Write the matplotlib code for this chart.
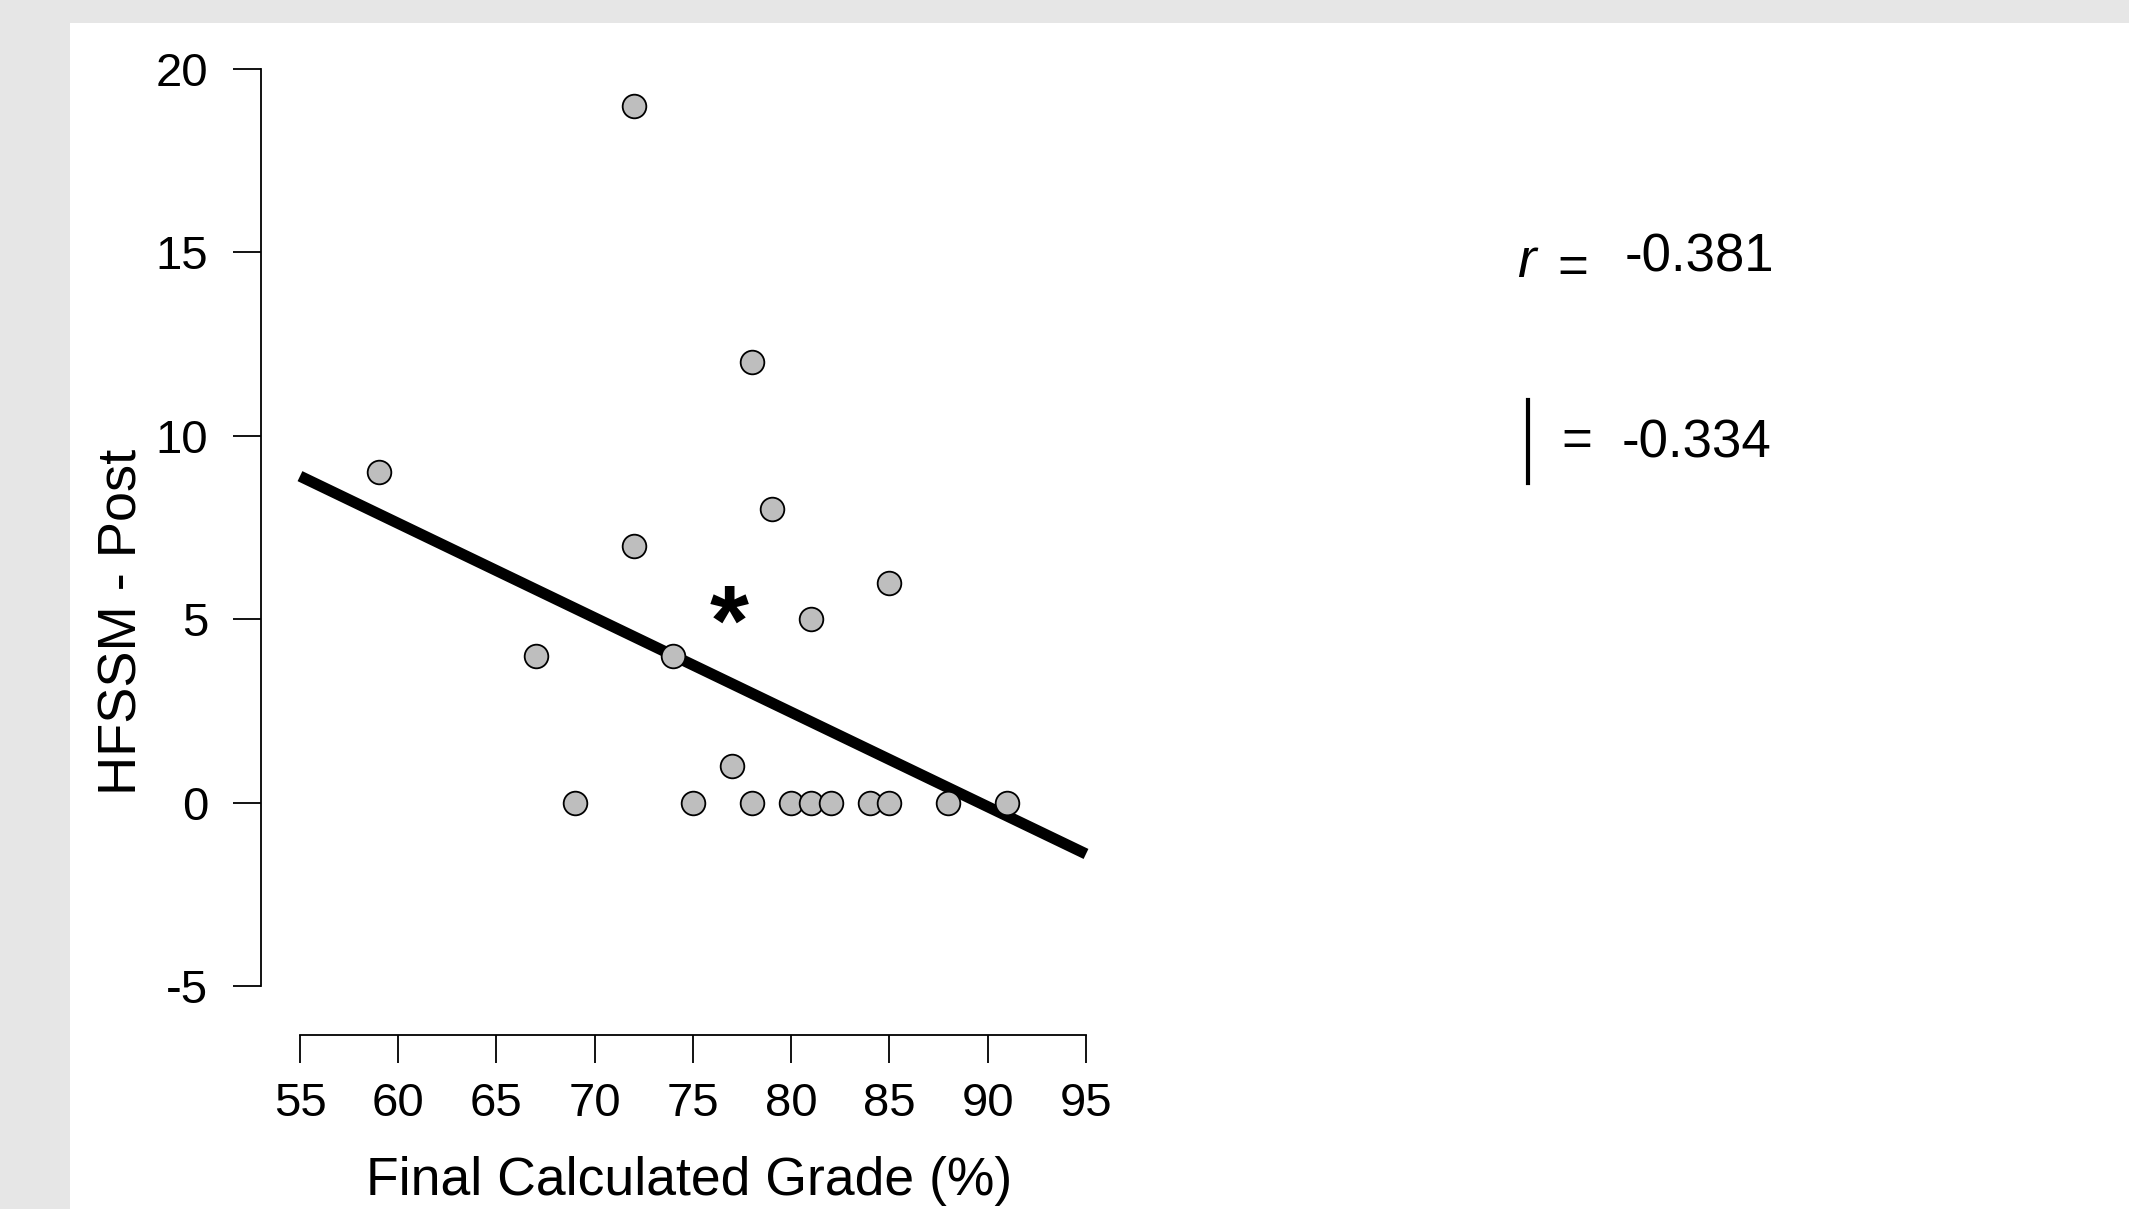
import numpy as np
import matplotlib
matplotlib.use("Agg")
import matplotlib.pyplot as plt
from matplotlib.lines import Line2D
from matplotlib.patches import Rectangle

plt.rcParams["font.family"] = ["Liberation Sans", "DejaVu Sans"]

#<---------------- datos ---------------->
grade = [59, 72, 78, 79, 72, 85, 81, 67, 74, 77,
         69, 75, 78, 80, 81, 82, 84, 85, 88, 91]
hfssm = [9, 19, 12, 8, 7, 6, 5, 4, 4, 1,
         0, 0, 0, 0, 0, 0, 0, 0, 0, 0]
fit_x = [55, 95]
fit_y = [8.9, -1.4]
x_ticks = [55, 60, 65, 70, 75, 80, 85, 90, 95]
y_ticks = [-5, 0, 5, 10, 15, 20]
r_value = "-0.381"
rho_value = "-0.334"

W, H = 2129, 1209
fig = plt.figure(figsize=(W / 100, H / 100), dpi=100)
fig.patch.set_facecolor("#e6e6e6")
fig.add_artist(Rectangle((70 / W, 0), 1, 1 - 23 / H, transform=fig.transFigure,
                         facecolor="white", edgecolor="none", zorder=-10))

def px(x, y):
    return x / W, 1 - y / H

#<---------------- ejes ---------------->
ax = fig.add_axes([261 / W, 1 - 1035 / H, (1086 - 261) / W, (1035 - 69) / H])
ax.patch.set_alpha(0)
ax.set_xlim(53.016, 95)
ax.set_ylim(-6.336, 20)

ax.plot(fit_x, fit_y, color="black", lw=8, solid_capstyle="butt", clip_on=False, zorder=2)
ax.scatter(grade, hfssm, s=290, facecolor="#bebebe", edgecolor="black", linewidth=1.3,
           zorder=3, clip_on=False)
ax.text(76.83, 4.75, "*", fontsize=72, fontweight="bold", ha="center", va="center")

for s in ["top", "right"]:
    ax.spines[s].set_visible(False)
ax.spines["left"].set_bounds(-5, 20)
ax.spines["bottom"].set_bounds(55, 95)
ax.spines["left"].set_linewidth(1.3)
ax.spines["bottom"].set_linewidth(1.3)
ax.set_xticks(x_ticks)
ax.set_yticks(y_ticks)
ax.set_yticklabels([str(v) for v in y_ticks])
ax.tick_params(axis="both", direction="out", length=20, width=1.3, labelsize=34)
ax.tick_params(axis="y", pad=18)
ax.tick_params(axis="x", pad=14)

ax.set_xlabel("Final Calculated Grade (%)", fontsize=38.5)
ax.set_ylabel("HFSSM - Post", fontsize=39)
ax.xaxis.set_label_coords(0.519, -0.151)
ax.yaxis.set_label_coords(-0.168, 0.4275)
ax.xaxis.label.set_va("center")
ax.yaxis.label.set_va("center")

#<---------------- texto de correlacion ---------------->
fig.text(*px(1517, 277), "r", fontsize=40, style="italic", ha="left", va="baseline")
fig.text(*px(1573, 283), "=", fontsize=38, ha="center", va="baseline")
fig.text(*px(1625, 271), r_value, fontsize=38, ha="left", va="baseline")
fig.add_artist(Line2D([1528 / W, 1528 / W], [1 - 400 / H, 1 - 483 / H],
                      transform=fig.transFigure, color="black", lw=3))
fig.text(*px(1577, 456), "=", fontsize=38, ha="center", va="baseline")
fig.text(*px(1622, 457), rho_value, fontsize=38, ha="left", va="baseline")

fig.savefig("out.png", dpi=100, facecolor=fig.get_facecolor())
